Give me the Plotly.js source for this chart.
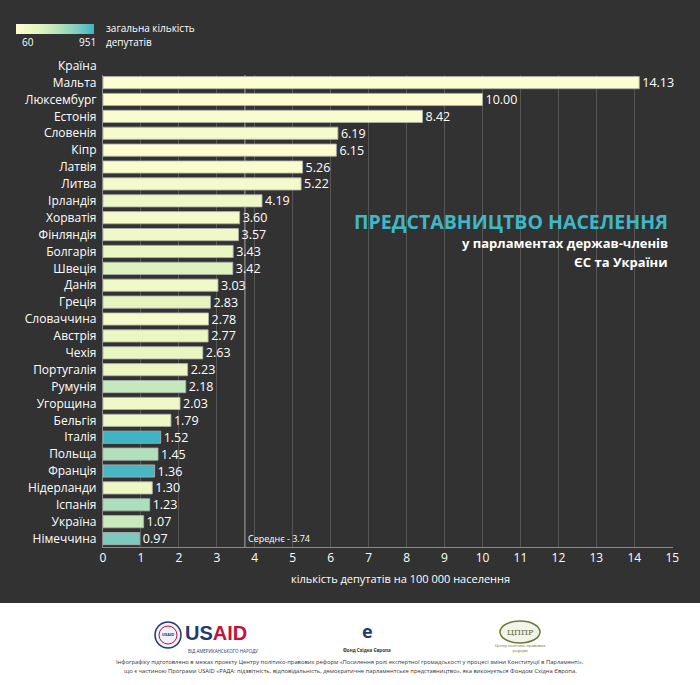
<!DOCTYPE html>
<html>
<head>
<meta charset="utf-8">
<script src="https://cdn.plot.ly/plotly-3.0.1.min.js"></script>
<style>
html,body{margin:0;padding:0;background:#323232;}
#chart{width:700px;height:685px;}
</style>
</head>
<body>
<div id="chart"></div>
<script>
// ---- data ----
var countries = ['Мальта','Люксембург','Естонія','Словенія','Кіпр','Латвія','Литва','Ірландія','Хорватія','Фінляндія','Болгарія','Швеція','Данія','Греція','Словаччина','Австрія','Чехія','Португалія','Румунія','Угорщина','Бельгія','Італія','Польща','Франція','Нідерланди','Іспанія','Україна','Німеччина'];
var perCapita = [14.13,10.00,8.42,6.19,6.15,5.26,5.22,4.19,3.60,3.57,3.43,3.42,3.03,2.83,2.78,2.77,2.63,2.23,2.18,2.03,1.79,1.52,1.45,1.36,1.30,1.23,1.07,0.97];
var deputies = [67,60,101,130,56,100,141,218,151,200,240,349,179,300,150,244,281,230,465,199,210,951,560,925,225,573,450,778];
var meanValue = 3.74;
var xTicks = [0,1,2,3,4,5,6,7,8,9,10,11,12,13,14,15];
var colorMin = 60, colorMax = 951;

// ---- layout helpers (pixel -> paper) ----
var W = 700, H = 685, ML = 103, MR = 27, MT = 75, MB = 138;
var PW = W - ML - MR, PH = H - MT - MB;
function px(x){ return (x - ML) / PW; }
function py(y){ return (H - MB - y) / PH; }

var font = 'Open Sans, Noto Sans, DejaVu Sans, sans-serif';

var trace = {
  type: 'bar',
  orientation: 'h',
  y: countries,
  x: perCapita,
  texttemplate: '%{x:.2f}',
  textposition: 'outside',
  constraintext: 'none',
  textfont: {color: '#ffffff', size: 12.5, family: font},
  cliponaxis: false,
  hoverinfo: 'none',
  marker: {
    color: deputies,
    cmin: colorMin,
    cmax: colorMax,
    colorscale: [[0,'#fdfdd0'],[0.3,'#e3f4bd'],[0.55,'#b2e2bb'],[0.8,'#7ccbc0'],[1,'#3fb4c4']],
    line: {color: 'rgba(175,175,175,0.85)', width: 1},
    showscale: true,
    colorbar: {
      orientation: 'h',
      xref: 'container', yref: 'container',
      x: 20/W, xanchor: 'left',
      y: 1 - 24/H, yanchor: 'top',
      lenmode: 'pixels', len: 78,
      thickness: 10,
      xpad: 0, ypad: 0,
      outlinewidth: 0,
      showticklabels: false,
      ticks: '',
      bgcolor: 'rgba(0,0,0,0)'
    }
  },
  width: 0.72
};

var annotations = [
  {xref:'paper', yref:'paper', x:px(99), y:py(66), xanchor:'right', yanchor:'middle', text:'Країна', showarrow:false,
   font:{color:'#ffffff', size:12, family:font}},
  {xref:'x', yref:'y', x:meanValue, y:27, xanchor:'left', yanchor:'middle', xshift:1, text:'Середнє - 3.74', showarrow:false,
   font:{color:'#ffffff', size:9, family:font}},
  {xref:'paper', yref:'paper', x:px(400), y:py(578), xanchor:'center', yanchor:'middle', text:'кількість депутатів на 100 000 населення', showarrow:false,
   font:{color:'#ffffff', size:11, family:font}},
  // colour legend labels
  {xref:'paper', yref:'paper', x:px(20), y:py(42), xanchor:'left', yanchor:'middle', text:String(colorMin), showarrow:false,
   font:{color:'#ffffff', size:10, family:font}},
  {xref:'paper', yref:'paper', x:px(98), y:py(42), xanchor:'right', yanchor:'middle', text:String(colorMax), showarrow:false,
   font:{color:'#ffffff', size:10, family:font}},
  {xref:'paper', yref:'paper', x:px(104), y:py(28), xanchor:'left', yanchor:'middle', text:'загальна кількість', showarrow:false,
   font:{color:'#ffffff', size:10, family:font}},
  {xref:'paper', yref:'paper', x:px(104), y:py(42), xanchor:'left', yanchor:'middle', text:'депутатів', showarrow:false,
   font:{color:'#ffffff', size:10, family:font}},
  // title block
  {xref:'paper', yref:'paper', x:px(670), y:py(222), xanchor:'right', yanchor:'middle', text:'<b>ПРЕДСТАВНИЦТВО НАСЕЛЕННЯ</b>', showarrow:false,
   font:{color:'#3fb8c6', size:19.5, family:font}},
  {xref:'paper', yref:'paper', x:px(670), y:py(243), xanchor:'right', yanchor:'middle', text:'<b>у парламентах держав-членів</b>', showarrow:false,
   font:{color:'#ffffff', size:13, family:font}},
  {xref:'paper', yref:'paper', x:px(670), y:py(262), xanchor:'right', yanchor:'middle', text:'<b>ЄС та України</b>', showarrow:false,
   font:{color:'#ffffff', size:13, family:font}},
  // footer logos
  {xref:'paper', yref:'paper', x:px(183), y:py(633), xanchor:'left', yanchor:'middle', showarrow:false,
   text:'<b><span style="color:#1f3a6e">US</span><span style="color:#c2113a">AID</span></b>',
   font:{size:20, family:'Liberation Sans, Arial, sans-serif'}},
  {xref:'paper', yref:'paper', x:px(186), y:py(651), xanchor:'left', yanchor:'middle', showarrow:false,
   text:'ВІД АМЕРИКАНСЬКОГО НАРОДУ', font:{size:4.5, color:'#1f3a6e', family:font}},
  {xref:'paper', yref:'paper', x:px(168), y:py(634), xanchor:'center', yanchor:'middle', showarrow:false,
   text:'<b>USAID</b>', font:{size:4, color:'#1f3a6e', family:font}},
  {xref:'paper', yref:'paper', x:px(367), y:py(631), xanchor:'center', yanchor:'middle', showarrow:false,
   text:'<b>e</b>', font:{size:18, color:'#1f3a6e', family:font}},
  {xref:'paper', yref:'paper', x:px(367), y:py(650), xanchor:'center', yanchor:'middle', showarrow:false,
   text:'<b>Фонд Східна Європа</b>', font:{size:4.5, color:'#333333', family:font}},
  {xref:'paper', yref:'paper', x:px(520), y:py(632), xanchor:'center', yanchor:'middle', showarrow:false,
   text:'ЦППР', font:{size:8, color:'#5a6a3a', family:'DejaVu Serif, serif'}},
  {xref:'paper', yref:'paper', x:px(520), y:py(648), xanchor:'center', yanchor:'middle', showarrow:false,
   text:'Центр політико-правових<br>реформ', font:{size:4, color:'#5a6a3a', family:font}},
  // footer text
  {xref:'paper', yref:'paper', x:px(350), y:py(662), xanchor:'center', yanchor:'middle', showarrow:false,
   text:'Інфографіку підготовлено в межах проекту Центру політико-правових реформ «Посилення ролі експертної громадськості у процесі зміни Конституції в Парламенті»,',
   font:{size:5.8, color:'#333333', family:font}},
  {xref:'paper', yref:'paper', x:px(350), y:py(671), xanchor:'center', yanchor:'middle', showarrow:false,
   text:'що є частиною Програми USAID «РАДА: підзвітність, відповідальність, демократичне парламентське представництво», яка виконується Фондом Східна Європа.',
   font:{size:5.8, color:'#333333', family:font}}
];

var shapes = [
  {type:'line', xref:'x', yref:'paper', x0:meanValue, x1:meanValue, y0:0, y1:1, layer:'below',
   line:{color:'#a8a8a8', width:1}},
  {type:'rect', xref:'paper', yref:'paper', x0:px(0), x1:px(700), y0:py(603), y1:py(686), layer:'above',
   fillcolor:'#ffffff', line:{width:0}},
  {type:'circle', xref:'paper', yref:'paper', x0:px(155), x1:px(181), y0:py(622), y1:py(648), layer:'above',
   fillcolor:'#eef1f6', line:{color:'#1f3a6e', width:1.5}},
  {type:'circle', xref:'paper', yref:'paper', x0:px(159), x1:px(177), y0:py(626), y1:py(644), layer:'above',
   fillcolor:'rgba(0,0,0,0)', line:{color:'#c2113a', width:1}},
  {type:'circle', xref:'paper', yref:'paper', x0:px(500), x1:px(540), y0:py(621), y1:py(643), layer:'above',
   fillcolor:'#f3f4ea', line:{color:'#6b7a3a', width:1.5}}
];

var layout = {
  width: W, height: H,
  paper_bgcolor: '#323232',
  plot_bgcolor: '#323232',
  margin: {l: ML, r: MR, t: MT, b: MB, pad: 0},
  showlegend: false,
  bargap: 0.28,
  xaxis: {
    range: [0, 15.02],
    tickvals: xTicks,
    ticktext: xTicks.map(String),
    showgrid: true, gridcolor: '#575757', gridwidth: 1,
    zeroline: false,
    showline: true, linecolor: '#8a8a8a', linewidth: 1,
    ticks: '',
    tickfont: {color: '#ffffff', size: 12, family: font},
    fixedrange: true
  },
  yaxis: {
    type: 'category',
    categoryorder: 'array',
    categoryarray: countries,
    range: [27.5, -0.45],
    showgrid: false,
    showline: true, linecolor: '#8a8a8a', linewidth: 1,
    ticks: '',
    ticksuffix: ' ',
    tickfont: {color: '#ffffff', size: 12, family: font},
    fixedrange: true
  },
  annotations: annotations,
  shapes: shapes
};

Plotly.newPlot('chart', [trace], layout, {displayModeBar: false, staticPlot: true});
</script>
</body>
</html>
